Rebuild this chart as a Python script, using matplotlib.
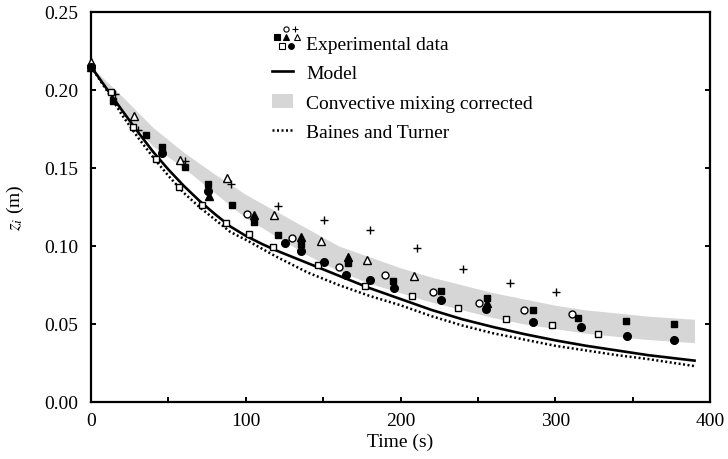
import matplotlib
matplotlib.use("Agg")
from matplotlib import pyplot as plt
from matplotlib.lines import Line2D
from matplotlib.patches import Patch
from matplotlib.legend_handler import HandlerBase
from matplotlib.ticker import MultipleLocator, FormatStrFormatter

plt.rcParams['font.family'] = ['Liberation Serif', 'DejaVu Serif']
plt.rcParams['mathtext.fontset'] = 'stix'
plt.rcParams['font.size'] = 14

# model curve
t_model = [0, 10, 20, 30, 40, 50, 60, 70, 80, 90, 100, 110, 120, 140, 160, 180, 200,
           220, 240, 260, 280, 300, 320, 340, 360, 390]
z_model = [0.215, 0.201, 0.187, 0.1735, 0.1605, 0.149, 0.1385, 0.129, 0.1205, 0.1125,
           0.1065, 0.1015, 0.097, 0.089, 0.081, 0.073, 0.066, 0.059, 0.053, 0.048,
           0.0435, 0.0395, 0.036, 0.033, 0.030, 0.0265]

# Baines and Turner
t_bt = [0, 10, 20, 30, 40, 50, 60, 70, 80, 90, 100, 120, 140, 160, 180, 200, 220,
        240, 260, 280, 300, 320, 340, 360, 390]
z_bt = [0.215, 0.200, 0.184, 0.170, 0.157, 0.145, 0.134, 0.125, 0.117, 0.109, 0.104,
        0.093, 0.083, 0.075, 0.068, 0.062, 0.055, 0.049, 0.044, 0.040, 0.036, 0.033,
        0.030, 0.0275, 0.023]

# convective mixing corrected band
t_band = [0, 20, 40, 60, 80, 100, 120, 140, 160, 180, 200, 220, 240, 260, 280, 300,
          320, 340, 360, 390]
z_band_hi = [0.215, 0.196, 0.176, 0.160, 0.146, 0.133, 0.122, 0.111, 0.100, 0.093,
             0.086, 0.080, 0.075, 0.070, 0.066, 0.062, 0.059, 0.057, 0.055, 0.053]
z_band_lo = [0.215, 0.186, 0.164, 0.150, 0.134, 0.118, 0.106, 0.094, 0.084, 0.076,
             0.070, 0.064, 0.059, 0.054, 0.050, 0.047, 0.044, 0.042, 0.040, 0.038]

# experimental series
t_ocirc = [0, 100.6, 129.7, 160.5, 190, 220.8, 251, 280, 311]
z_ocirc = [0.215, 0.1205, 0.105, 0.0863, 0.0814, 0.0703, 0.0635, 0.059, 0.0564]

t_plus = [0, 15.5, 30.5, 61, 90.3, 120.6, 150.8, 180, 210.5, 240.6, 270.8, 300.5]
z_plus = [0.215, 0.1974, 0.1744, 0.1547, 0.1397, 0.1258, 0.1169, 0.110, 0.0985,
          0.0853, 0.0763, 0.0703]

t_fsq = [0, 14.4, 35.5, 45.7, 60.7, 75.4, 91, 105.5, 120.6, 135.7, 166, 195, 226,
         256, 285.8, 315, 346, 376.5]
z_fsq = [0.215, 0.193, 0.171, 0.1637, 0.1508, 0.140, 0.126, 0.1152, 0.107, 0.1013,
         0.0889, 0.0778, 0.0714, 0.0667, 0.059, 0.0536, 0.0517, 0.050]

t_ftri = [0, 76.4, 105.5, 136, 166, 256]
z_ftri = [0.215, 0.1323, 0.1197, 0.1056, 0.0927, 0.0635]

t_otri = [0, 27.8, 57.5, 87.7, 118.5, 148.6, 178.6, 208.5]
z_otri = [0.2177, 0.1835, 0.155, 0.1434, 0.1199, 0.1034, 0.0912, 0.081]

t_osq = [0, 12.7, 27, 42, 57, 72, 87, 102, 117.4, 147, 177, 207.4, 237, 268, 297.7,
         327.4]
z_osq = [0.215, 0.1989, 0.1765, 0.1558, 0.1376, 0.126, 0.1145, 0.1077, 0.0996, 0.088,
         0.0746, 0.068, 0.0603, 0.053, 0.0496, 0.0436]

t_fcirc = [0, 45.7, 75.4, 125.4, 135.5, 150.8, 165, 180, 196, 226, 255, 285.8, 316.4,
           346.6, 376.5]
z_fcirc = [0.2147, 0.1594, 0.1355, 0.1017, 0.097, 0.090, 0.0814, 0.0784, 0.0731,
           0.0656, 0.0596, 0.0515, 0.0483, 0.0421, 0.040]

series = [
    (t_ocirc, z_ocirc, 'o', 'white', 5),
    (t_plus, z_plus, '+', 'black', 5.5),
    (t_fsq, z_fsq, 's', 'black', 5),
    (t_ftri, z_ftri, '^', 'black', 6),
    (t_otri, z_otri, '^', 'white', 6),
    (t_osq, z_osq, 's', 'white', 5),
    (t_fcirc, z_fcirc, 'o', 'black', 5.5),
]

# where each marker sits in the legend glyph cluster (col, row)
cluster = [(0, 1), (0.85, 1), (-1, 0), (0, 0), (1.05, 0), (-0.5, -1), (0.45, -1)]


class ExpHandler(HandlerBase):
    def create_artists(self, legend, orig_handle, xdescent, ydescent, width, height,
                       fontsize, trans):
        cx = width / 2 - xdescent + 0.2 * fontsize
        cy = height / 2 - ydescent + 0.25 * fontsize
        sx = 0.5 * fontsize
        sy = 0.45 * fontsize
        arts = []
        for (c, r), s in zip(cluster, series):
            m = Line2D([cx + c * sx], [cy + r * sy], linestyle='none', marker=s[2],
                       markerfacecolor=s[3], markeredgecolor='black', markersize=s[4] * 0.75,
                       markeredgewidth=0.8, transform=trans)
            arts.append(m)
        return arts


fig = plt.figure(figsize=(7.28, 4.6), dpi=100)
ax = fig.add_axes([0.125, 0.124, 0.8503, 0.8478])

ax.fill_between(t_band, z_band_lo, z_band_hi, color='#d6d6d6', lw=0, zorder=1)
ax.plot(t_model, z_model, color='black', lw=1.9, zorder=2)
ax.plot(t_bt, z_bt, color='black', lw=1.8, ls=(0, (0.8, 1.0)), zorder=2)

for t, z, mk, fc, ms in series:
    ax.plot(t, z, linestyle='none', marker=mk, markerfacecolor=fc, markeredgecolor='black',
            markersize=ms, markeredgewidth=1.0, zorder=3, clip_on=False)

ax.set_xlim(0, 400)
ax.set_ylim(0, 0.25)
ax.xaxis.set_major_locator(MultipleLocator(100))
ax.xaxis.set_minor_locator(MultipleLocator(50))
ax.yaxis.set_major_locator(MultipleLocator(0.05))
ax.yaxis.set_major_formatter(FormatStrFormatter('%.2f'))
ax.tick_params(which='both', direction='in', length=3.5, width=1.4, left=True, right=True,
               top=False, bottom=True, labelsize=14)
ax.tick_params(axis='y', pad=9)
ax.tick_params(axis='x', pad=7)
for sp in ax.spines.values():
    sp.set_linewidth(1.6)

ax.set_xlabel('Time (s)', fontsize=14, labelpad=3)
ax.set_ylabel('$z_i$ (m)', fontsize=14, labelpad=13)

handles = [object(),
           Line2D([], [], color='black', lw=1.9),
           Patch(facecolor='#d6d6d6', edgecolor='none'),
           Line2D([], [], color='black', lw=1.8, ls=(0, (0.8, 1.0)))]
labels = ['Experimental data', 'Model', 'Convective mixing corrected', 'Baines and Turner']
ax.legend(handles, labels, handler_map={object: ExpHandler()}, loc='upper left',
          bbox_to_anchor=(0.293, 0.94), frameon=False, fontsize=14, handlelength=1.05,
          handletextpad=0.7, labelspacing=0.6, borderpad=0, borderaxespad=0)

fig.savefig('out.png', dpi=100)
